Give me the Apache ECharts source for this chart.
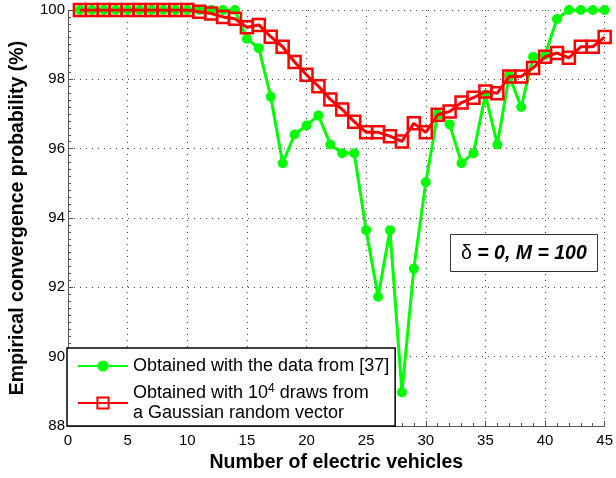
<!DOCTYPE html>
<html>
<head>
<meta charset="utf-8">
<script src="https://cdn.jsdelivr.net/npm/echarts@6/dist/echarts.min.js"></script>
<style>
html,body{margin:0;padding:0;background:#fff;}
#c{width:616px;height:478px;}
</style>
</head>
<body>
<div id="c"></div>
<script>
const vehicles = [1,2,3,4,5,6,7,8,9,10,11,12,13,14,15,16,17,18,19,20,21,22,23,24,25,26,27,28,29,30,31,32,33,34,35,36,37,38,39,40,41,42,43,44,45];
const dataGreen = [100,100,100,100,100,100,100,100,100,100,100,100,100,100,99.17,98.9,97.5,95.58,96.41,96.67,96.96,96.12,95.87,95.87,93.65,91.73,93.65,88.97,92.54,95.03,96.99,96.7,95.58,95.87,97.56,96.12,98.1,97.2,98.65,98.7,99.74,100,100,100,100];
const dataRed = [100,100,100,100,100,100,100,100,100,100,99.95,99.9,99.8,99.75,99.5,99.57,99.23,98.94,98.5,98.13,97.8,97.42,97.13,96.78,96.47,96.47,96.36,96.21,96.73,96.47,96.98,97.07,97.33,97.47,97.65,97.6,98.08,98.08,98.33,98.65,98.76,98.62,98.94,98.94,99.22];
const nameGreen = 'Obtained with the data from [37]';
const nameRed = 'Obtained with 10^4 draws from a Gaussian random vector';

const font = 'Liberation Sans, Arial, sans-serif';
const chart = echarts.init(document.getElementById('c'), null, {renderer: 'canvas'});
const pairs = (ys) => vehicles.map((x, i) => [x, ys[i]]);

chart.setOption({
  animation: false,
  backgroundColor: '#fff',
  textStyle: {fontFamily: font},
  grid: {left: 67, right: 8, top: 10, bottom: 50, containLabel: false},
  title: {
    text: '{d|δ}{b| = 0, M = 100}',
    left: 450, top: 233,
    padding: [9, 11, 8, 11],
    borderColor: '#333', borderWidth: 1, backgroundColor: '#fff',
    textStyle: {
      rich: {
        d: {fontFamily: font, fontSize: 19.5, color: '#000', fontWeight: 'normal', lineHeight: 23},
        b: {fontFamily: font, fontSize: 19.5, color: '#000', fontWeight: 'bold', fontStyle: 'italic', lineHeight: 23}
      }
    }
  },
  legend: {
    orient: 'vertical',
    left: 67, top: 348,
    padding: [9, 6, 4, 10],
    itemGap: 8,
    itemWidth: 50, itemHeight: 14,
    borderColor: '#000', borderWidth: 1.5, backgroundColor: '#fff',
    borderRadius: 0,
    data: [nameGreen, nameRed],
    formatter: function (n) {
      if (n === nameRed) return '{t|Obtained with 10}{s|4}{t| draws from}\n{t|a Gaussian random vector}';
      return '{t|' + n + '}';
    },
    textStyle: {
      fontFamily: font, fontSize: 18, color: '#000',
      rich: {
        t: {fontFamily: font, fontSize: 18, color: '#000', lineHeight: 20},
        s: {fontFamily: font, fontSize: 12, color: '#000', lineHeight: 4, verticalAlign: 'top'}
      }
    }
  },
  xAxis: {
    type: 'value', min: 0, max: 45, interval: 5,
    name: 'Number of electric vehicles',
    nameLocation: 'middle', nameGap: 27,
    nameTextStyle: {fontFamily: font, fontSize: 19.5, fontWeight: 'bold', color: '#000'},
    axisLine: {show: true, onZero: false, lineStyle: {color: '#555', width: 1}},
    axisTick: {show: true, inside: true, length: 5, lineStyle: {color: '#555'}},
    minorTick: {show: true, splitNumber: 5, length: 3, lineStyle: {color: '#555'}},
    axisLabel: {fontFamily: font, fontSize: 15, color: '#000', margin: 7},
    splitLine: {show: true, lineStyle: {color: '#444', width: 1, type: [1, 5]}}
  },
  yAxis: {
    type: 'value', min: 88, max: 100, interval: 2,
    name: 'Empirical convergence probability (%)',
    nameLocation: 'middle', nameGap: 40,
    nameTextStyle: {fontFamily: font, fontSize: 19.5, fontWeight: 'bold', color: '#000'},
    axisLine: {show: true, onZero: false, lineStyle: {color: '#555', width: 1}},
    axisTick: {show: true, inside: true, length: 5, lineStyle: {color: '#555'}},
    minorTick: {show: true, splitNumber: 10, length: 3, lineStyle: {color: '#555'}},
    axisLabel: {fontFamily: font, fontSize: 15, color: '#000', margin: 3},
    splitLine: {show: true, lineStyle: {color: '#444', width: 1, type: [1, 5]}}
  },
  series: [
    {
      name: nameGreen, type: 'line', data: pairs(dataGreen),
      symbol: 'circle', symbolSize: 10, showAllSymbol: true,
      lineStyle: {color: '#00ff00', width: 3},
      itemStyle: {color: '#00ff00', borderWidth: 0},
      z: 2
    },
    {
      name: nameRed, type: 'line', data: pairs(dataRed),
      symbol: 'rect', symbolSize: 12, showAllSymbol: true,
      lineStyle: {color: '#ff0000', width: 3},
      itemStyle: {color: 'rgba(255,255,255,0)', borderColor: '#ff0000', borderWidth: 2.5},
      z: 3
    }
  ]
});
</script>
</body>
</html>
